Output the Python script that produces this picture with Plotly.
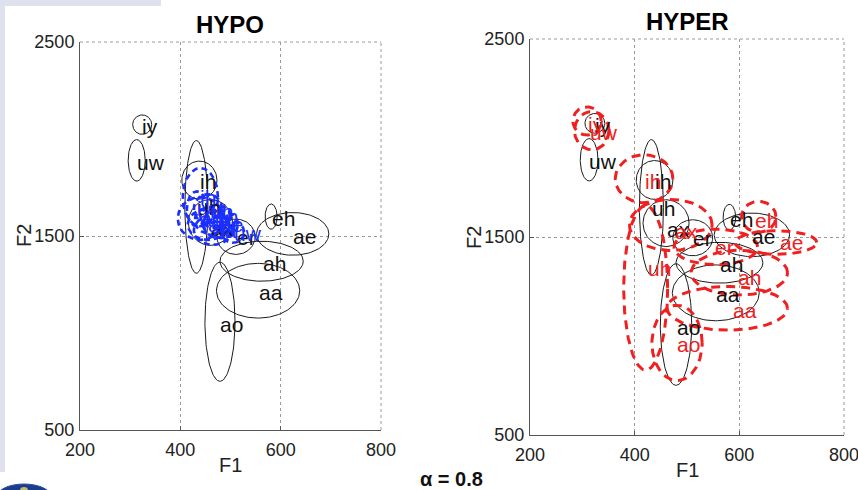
import numpy as np
import plotly.graph_objects as go

W, H = 858, 490

vowels = ["iy", "uw", "ih", "uh", "ax", "er", "eh", "ae", "ah", "aa", "ao"]

# reference vowel ellipses (black, solid) - shown in both panels
ref_cx = [324, 313, 438, 432, 460, 511, 581, 624, 562, 555, 479]
ref_cy = [2074, 1890, 1788, 1650, 1570, 1496, 1600, 1511, 1370, 1218, 1058]
ref_rx = [19, 17, 35, 23, 44, 38, 12, 72, 83, 83, 30]
ref_ry = [50, 107, 98, 342, 118, 91, 65, 110, 103, 141, 307]
ref_lx = [324, 313, 439, 434, 461, 512, 582, 625, 564, 556, 480]
ref_ly = [2065, 1880, 1780, 1645, 1540, 1490, 1590, 1500, 1360, 1208, 1044]

# HYPO (blue, dashed)
hypo_cx = [433, 505, 440, 455, 462, 478, 470, 480, 455, 465, 440]
hypo_cy = [1640, 1520, 1700, 1640, 1580, 1545, 1600, 1560, 1560, 1530, 1590]
hypo_rx = [20, 22, 35, 28, 33, 30, 30, 35, 40, 38, 45]
hypo_ry = [90, 55, 150, 75, 70, 55, 60, 70, 80, 75, 110]
hypo_lx = [433, 507, 440, 459, 462, 478, 470, 480, 455, 465, 440]
hypo_ly = [1640, 1515, 1700, 1625, 1580, 1545, 1600, 1560, 1560, 1530, 1590]

# HYPER (red, dashed)
hyper_cx = [309, 318, 418, 421, 469, 555, 637, 670, 600, 577, 481]
hyper_cy = [2086, 2037, 1794, 1243, 1561, 1450, 1602, 1472, 1320, 1140, 965]
hyper_rx = [27, 33, 55, 42, 79, 80, 33, 78, 92, 115, 48]
hyper_ry = [71, 96, 121, 415, 129, 90, 78, 60, 113, 110, 190]
hyper_lx = [311, 314, 420, 426, 477, 553, 630, 677, 598, 588, 481]
hyper_ly = [2067, 2026, 1780, 1343, 1526, 1446, 1585, 1470, 1298, 1131, 958]

x_ticks = [200, 400, 600, 800]
y_ticks = [500, 1500, 2500]
panel_titles = ["HYPO", "HYPER"]

FONT = "Liberation Sans, Arial, sans-serif"
t = np.linspace(0, 2 * np.pi, 120)


def ellipse_trace(cx, cy, rx, ry, color, width, dash, xa, ya):
    xs, ys = [], []
    for a, b, r1, r2 in zip(cx, cy, rx, ry):
        xs += list(a + r1 * np.cos(t)) + [None]
        ys += list(b + r2 * np.sin(t)) + [None]
    return go.Scatter(x=xs, y=ys, mode="lines", xaxis=xa, yaxis=ya,
                      line=dict(color=color, width=width, dash=dash),
                      hoverinfo="skip", showlegend=False)


fig = go.Figure()
fig.add_trace(ellipse_trace(ref_cx, ref_cy, ref_rx, ref_ry, "#1a1a1a", 1, "solid", "x", "y"))
fig.add_trace(ellipse_trace(hypo_cx, hypo_cy, hypo_rx, hypo_ry, "#1a2fff", 2.6, "6px,4px", "x", "y"))
fig.add_trace(ellipse_trace(ref_cx, ref_cy, ref_rx, ref_ry, "#1a1a1a", 1, "solid", "x2", "y2"))
fig.add_trace(ellipse_trace(hyper_cx, hyper_cy, hyper_rx, hyper_ry, "#f02020", 3, "9px,6px", "x2", "y2"))

ann = []


def add_labels(lx, ly, color, xr, yr):
    for v, a, b in zip(vowels, lx, ly):
        ann.append(dict(x=a, y=b, xref=xr, yref=yr, text=v, showarrow=False,
                        xanchor="left", yanchor="middle", xshift=-2,
                        font=dict(family=FONT, size=21, color=color)))


add_labels(ref_lx, ref_ly, "#111111", "x", "y")
add_labels(hypo_lx, hypo_ly, "#1a2fff", "x", "y")
add_labels(ref_lx, ref_ly, "#111111", "x2", "y2")
add_labels(hyper_lx, hyper_ly, "#f02020", "x2", "y2")

# panel geometry (pixels)
L = dict(x0=80, x1=381, y0=42, y1=430)
R = dict(x0=530, x1=844, y0=39, y1=435)


def px(v):
    return v / W


def py(v):
    return 1 - v / H


shapes = [
    dict(type="rect", xref="paper", yref="paper", x0=0, x1=px(161), y0=py(6), y1=1,
         fillcolor="#dfe1ef", line=dict(width=0), layer="below"),
    dict(type="rect", xref="paper", yref="paper", x0=0, x1=px(5), y0=py(472), y1=1,
         fillcolor="#dfe1ef", line=dict(width=0), layer="below"),
    dict(type="circle", xref="paper", yref="paper", x0=px(-4), x1=px(52), y0=py(512), y1=py(484),
         fillcolor="#1c3c8e", line=dict(color="#3050a8", width=1)),
    dict(type="circle", xref="paper", yref="paper", x0=px(20), x1=px(28), y0=py(494), y1=py(487),
         fillcolor="#c8b860", line=dict(width=0)),
]

for P, title, xr in zip([L, R], panel_titles, ["x", "x2"]):
    cxp = (P["x0"] + P["x1"]) / 2
    ann.append(dict(x=px(cxp), y=py(P["y0"] - 17), xref="paper", yref="paper", text="<b>%s</b>" % title,
                    showarrow=False, xanchor="center", yanchor="middle",
                    font=dict(family=FONT, size=24, color="#000")))
    ann.append(dict(x=px(cxp), y=py(P["y1"] + 35), xref="paper", yref="paper", text="F1",
                    showarrow=False, xanchor="center", yanchor="middle",
                    font=dict(family=FONT, size=20, color="#222")))
    ann.append(dict(x=px(P["x0"] - 56), y=py((P["y0"] + P["y1"]) / 2), xref="paper", yref="paper",
                    text="F2", textangle=-90, showarrow=False, xanchor="center", yanchor="middle",
                    font=dict(family=FONT, size=20, color="#222")))
    # dotted frame on the top and right edges (grid lines at the range limits)
    dom = xr + " domain"
    yr = "y" if xr == "x" else "y2"
    shapes.append(dict(type="line", xref=dom, yref=yr + " domain", x0=0, x1=1, y0=1, y1=1,
                       line=dict(color="#9a9a9a", width=1, dash="dot")))
    shapes.append(dict(type="line", xref=dom, yref=yr + " domain", x0=1, x1=1, y0=0, y1=1,
                       line=dict(color="#9a9a9a", width=1, dash="dot")))

ann.append(dict(x=px(451), y=py(479), xref="paper", yref="paper", text="<b>α = 0.8</b>",
                showarrow=False, xanchor="center", yanchor="middle",
                font=dict(family=FONT, size=20, color="#111")))

axis_common = dict(range=[200, 800], tickvals=x_ticks, ticks="inside", ticklen=4, tickcolor="#555",
                   showline=True, linecolor="#555", linewidth=1, mirror=False,
                   showgrid=True, gridcolor="#9a9a9a", griddash="dot", gridwidth=1,
                   zeroline=False, tickfont=dict(family=FONT, size=18, color="#222"),
                   ticklabelstandoff=3, ticklabeloverflow="allow",
                   fixedrange=True, automargin=False)
yaxis_common = dict(range=[500, 2500], tickvals=y_ticks, ticks="inside", ticklen=4, tickcolor="#555",
                    showline=True, linecolor="#555", linewidth=1, mirror=False,
                    showgrid=True, gridcolor="#9a9a9a", griddash="dot", gridwidth=1,
                    zeroline=False, tickfont=dict(family=FONT, size=18, color="#222"),
                    ticklabelstandoff=1, ticklabeloverflow="allow",
                    fixedrange=True, automargin=False)

fig.update_layout(
    width=W, height=H, margin=dict(l=0, r=0, t=0, b=0, autoexpand=False),
    paper_bgcolor="white", plot_bgcolor="white",
    xaxis=dict(domain=[px(L["x0"]), px(L["x1"])], anchor="y", **axis_common),
    yaxis=dict(domain=[py(L["y1"]), py(L["y0"])], anchor="x", **yaxis_common),
    xaxis2=dict(domain=[px(R["x0"]), px(R["x1"])], anchor="y2", **axis_common),
    yaxis2=dict(domain=[py(R["y1"]), py(R["y0"])], anchor="x2", **yaxis_common),
    annotations=ann, shapes=shapes, showlegend=False,
)

fig.write_html("out.html", config={"displayModeBar": False},
               post_script="document.body.style.margin='0';document.body.style.overflow='hidden';")
